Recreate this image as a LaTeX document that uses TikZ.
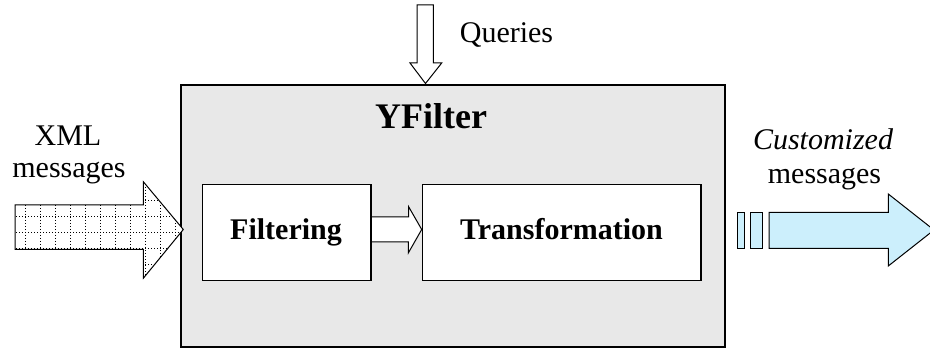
\documentclass[tikz,border=0pt]{standalone}
\usepackage{fontspec}
\setmainfont{Liberation Serif}
\begin{document}
\begin{tikzpicture}[x=1pt,y=-1pt,
  lbl/.style={font=\fontsize{30}{36}\selectfont, inner sep=0pt, anchor=base},
  boxlbl/.style={font=\fontsize{30}{36}\selectfont\bfseries, inner sep=0pt, anchor=base},
  outer/.style={draw=black, line width=2pt, fill=gray!18, inner sep=0pt, anchor=north west},
  stagebox/.style={draw=black, line width=1.5pt, fill=white, inner sep=0pt, anchor=north west},
  arrowline/.style={draw=black, line width=1pt, line join=miter},
  gridline/.style={line width=1pt, dash pattern=on 1pt off 2pt}
]
\useasboundingbox (0,0) rectangle (930,352);

% main YFilter box
\node[outer, minimum width=544.5pt, minimum height=262.5pt] (yf) at (179.5,84) {};
\node[boxlbl, font=\fontsize{36}{42}\selectfont\bfseries] (title) at (431,129) {YFilter};

% processing stages
\node[stagebox, minimum width=168.3pt, minimum height=96pt] (filt) at (201.7,184) {};
\node[stagebox, minimum width=278.3pt, minimum height=96pt] (trans) at (421.7,184) {};
\node[boxlbl] (filtlbl) at (286,239.3) {Filtering};
\node[boxlbl] (translbl) at (561.5,239.3) {Transformation};

% arrow from filtering to transformation
\coordinate (fa) at (filt.east |- 0,229.5);
\draw[arrowline, fill=white]
  (fa) ++(0,-12.5) -- ++(37,0) -- ++(0,-10.5) -- (trans.west |- 0,229.5)
  -- (408.3,253) -- ++(0,-11) -- ++(-37,0) -- cycle;

% incoming queries arrow
\draw[arrowline, fill=white]
  (417,5) -- (433.3,5) -- (433.3,63) -- (441.7,63) -- (425.5,83.5)
  -- (410,63) -- (417,63) -- cycle;
\node[lbl] (queries) at (506.5,43) {Queries};

% incoming XML messages arrow with dotted grid pattern
\def\xmlarrow{(15,205) -- (143.3,205) -- (143.3,181.7) -- (183.3,229.5)
  -- (143.3,278.3) -- (143.3,249.3) -- (15,249.3) -- cycle}
\fill[white] \xmlarrow;
\begin{scope}
  \clip \xmlarrow;
  \foreach \gx in {25,40,...,190} \draw[gridline] (\gx,175) -- (\gx,285);
  \foreach \gy in {184.7,200.7,...,280} \draw[gridline] (10,\gy) -- (190,\gy);
\end{scope}
\draw[arrowline] \xmlarrow;
\node[lbl] (xml) at (68,146) {XML};
\node[lbl] (xmlmsg) at (69,178) {messages};

% outgoing customized messages arrow
\fill[cyan!20] (737.3,212.3) rectangle (744.3,248.3);
\draw[arrowline] (737.3,212.3) rectangle (744.3,248.3);
\draw[arrowline, fill=cyan!20] (750,212.3) rectangle (762.7,248.3);
\draw[arrowline, fill=cyan!20]
  (769,212.3) -- (888.3,212.3) -- (888.3,194) -- (934,230)
  -- (888.3,266) -- (888.3,248.3) -- (769,248.3) -- cycle;
\node[lbl, font=\fontsize{30}{36}\selectfont\itshape] (cust) at (823,150) {Customized};
\node[lbl] (custmsg) at (824.5,184) {messages};
\end{tikzpicture}
\end{document}
